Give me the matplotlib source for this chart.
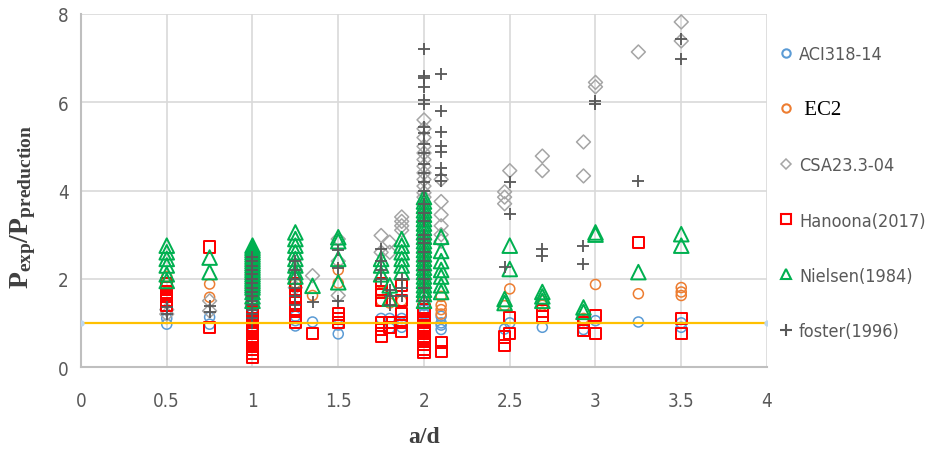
import matplotlib
matplotlib.use("Agg")
import matplotlib.pyplot as plt
from matplotlib.lines import Line2D

plt.rcParams['mathtext.fontset'] = 'custom'
plt.rcParams['mathtext.rm'] = 'Liberation Serif'
plt.rcParams['mathtext.bf'] = 'Liberation Serif:bold'
plt.rcParams['mathtext.it'] = 'Liberation Serif:italic'

# ---------------- data ----------------
aci_x = [0.5, 0.5, 0.75, 0.75, 1.0, 1.0, 1.0, 1.0, 1.25, 1.25, 1.25, 1.35, 1.5, 1.5, 1.75, 1.8, 1.8,
         1.87, 1.87, 1.87, 2.0, 2.0, 2.0, 2.0, 2.0, 2.0, 2.1, 2.1, 2.1, 2.1, 2.47, 2.5, 2.69, 2.93,
         3.0, 3.25, 3.5, 3.5]
aci_y = [0.97, 1.1, 1.13, 0.97, 1.1, 1.0, 0.9, 1.2, 0.93, 1.05, 1.15, 1.02, 0.95, 0.75, 1.1, 1.1, 0.88,
         1.1, 1.0, 0.9, 1.5, 1.4, 1.3, 1.2, 1.1, 1.0, 1.15, 1.0, 0.85, 0.95, 0.86, 1.0, 0.9, 0.85,
         1.05, 1.02, 1.0, 0.9]

ec2_x = [0.5, 0.5, 0.75, 0.75, 1.0, 1.0, 1.0, 1.25, 1.25, 1.35, 1.5, 1.5, 1.75, 1.75, 1.8, 1.87,
         2.0, 2.0, 2.0, 2.0, 2.0, 2.0, 2.1, 2.1, 2.1, 2.1, 2.47, 2.5, 2.69, 2.69, 2.93, 2.93,
         3.0, 3.25, 3.5, 3.5, 3.5]
ec2_y = [2.05, 1.9, 1.88, 1.58, 2.0, 1.8, 1.6, 2.1, 1.9, 1.62, 2.2, 1.9, 1.7, 1.5, 1.45, 1.5,
         2.6, 2.4, 2.2, 2.0, 1.8, 1.6, 1.6, 1.4, 1.2, 1.3, 1.39, 1.77, 1.5, 1.4, 1.1, 1.05,
         1.87, 1.66, 1.8, 1.7, 1.62]

csa_x = [0.5, 0.5, 0.75, 0.75, 1.0, 1.0, 1.0, 1.25, 1.25, 1.35, 1.5, 1.5, 1.5, 1.75, 1.75, 1.8, 1.8,
         1.87, 1.87, 1.87, 1.87,
         2.0, 2.0, 2.0, 2.0, 2.0, 2.0, 2.0, 2.0, 2.0, 2.0, 2.0, 2.0, 2.0, 2.0, 2.0, 2.0, 2.0,
         2.1, 2.1, 2.1, 2.1, 2.1, 2.1, 2.47, 2.47, 2.47, 2.5, 2.69, 2.69, 2.93, 2.93,
         3.0, 3.0, 3.25, 3.5, 3.5]
csa_y = [1.3, 1.2, 1.5, 1.27, 1.8, 1.6, 1.4, 2.2, 1.8, 2.07, 2.9, 2.4, 1.62, 2.98, 2.6, 2.83, 2.6,
         3.4, 3.3, 3.2, 3.1,
         5.6, 5.4, 5.2, 5.0, 4.85, 4.7, 4.55, 4.4, 4.25, 4.1, 3.95, 3.85, 3.7, 3.5, 3.3, 3.1, 2.9,
         4.25, 3.75, 3.45, 3.2, 3.0, 2.85, 3.97, 3.85, 3.7, 4.45, 4.78, 4.45, 5.1, 4.33,
         6.45, 6.35, 7.14, 7.82, 7.39]

han_x = [0.5, 0.5, 0.5, 0.5, 0.5, 0.5, 0.75, 0.75,
         1.0, 1.0, 1.0, 1.0, 1.0, 1.0, 1.0, 1.0, 1.0, 1.0, 1.0, 1.0, 1.0, 1.0, 1.0, 1.0,
         1.25, 1.25, 1.25, 1.25, 1.25, 1.25, 1.25, 1.35, 1.5, 1.5, 1.5,
         1.75, 1.75, 1.75, 1.75, 1.75, 1.75, 1.8, 1.8, 1.87, 1.87, 1.87, 1.87, 1.87,
         2.0, 2.0, 2.0, 2.0, 2.0, 2.0, 2.0, 2.0, 2.0, 2.0, 2.0, 2.1, 2.1,
         2.47, 2.47, 2.5, 2.5, 2.69, 2.69, 2.93, 2.93, 3.0, 3.0, 3.25, 3.5, 3.5]
han_y = [1.9, 1.8, 1.7, 1.6, 1.5, 1.4, 2.72, 0.9,
         2.1, 1.9, 1.7, 1.5, 1.3, 1.2, 1.1, 1.0, 0.9, 0.8, 0.7, 0.6, 0.5, 0.4, 0.3, 0.22,
         1.9, 1.75, 1.6, 1.45, 1.3, 1.15, 1.0, 0.75, 1.2, 1.1, 1.0,
         1.9, 1.7, 1.5, 1.0, 0.85, 0.7, 1.0, 0.9, 1.85, 1.5, 1.2, 1.0, 0.8,
         1.3, 1.2, 1.1, 1.0, 0.9, 0.8, 0.7, 0.6, 0.5, 0.4, 0.32, 0.55, 0.35,
         0.68, 0.48, 1.13, 0.75, 1.27, 1.15, 1.0, 0.82, 1.16, 0.75, 2.83, 1.1, 0.75]

nie_x = [0.5, 0.5, 0.5, 0.5, 0.5, 0.5, 0.75, 0.75,
         1.0, 1.0, 1.0, 1.0, 1.0, 1.0, 1.0, 1.0, 1.0, 1.0, 1.0, 1.0, 1.0, 1.0, 1.0, 1.0,
         1.0, 1.0, 1.0, 1.0, 1.0, 1.0, 1.0,
         1.25, 1.25, 1.25, 1.25, 1.25, 1.25, 1.25, 1.25, 1.35, 1.5, 1.5, 1.5, 1.5,
         1.75, 1.75, 1.75, 1.8, 1.8, 1.87, 1.87, 1.87, 1.87, 1.87, 1.87,
         2.0, 2.0, 2.0, 2.0, 2.0, 2.0, 2.0, 2.0, 2.0, 2.0, 2.0, 2.0, 2.0, 2.0, 2.0, 2.0,
         2.0, 2.0, 2.0, 2.0, 2.0, 2.0, 2.0, 2.0,
         2.1, 2.1, 2.1, 2.1, 2.1, 2.1, 2.1, 2.47, 2.47, 2.5, 2.5, 2.69, 2.69, 2.69,
         2.93, 2.93, 3.0, 3.0, 3.25, 3.5, 3.5]
nie_y = [2.75, 2.6, 2.45, 2.3, 2.1, 1.95, 2.48, 2.15,
         2.75, 2.7, 2.65, 2.6, 2.55, 2.5, 2.45, 2.4, 2.35, 2.3, 2.25, 2.2, 2.15, 2.1, 2.05, 2.0,
         1.95, 1.9, 1.85, 1.8, 1.7, 1.6, 1.5,
         3.05, 2.9, 2.75, 2.6, 2.45, 2.3, 2.15, 2.05, 1.84, 2.94, 2.85, 2.45, 1.92,
         2.45, 2.3, 2.1, 1.85, 1.55, 2.9, 2.75, 2.6, 2.45, 2.3, 2.15,
         3.85, 3.75, 3.65, 3.55, 3.45, 3.35, 3.25, 3.15, 3.05, 2.95, 2.85, 2.75, 2.65, 2.55, 2.45, 2.35,
         2.25, 2.15, 2.05, 1.95, 1.85, 1.75, 1.65, 1.5,
         2.95, 2.63, 2.4, 2.2, 2.05, 1.85, 1.7, 1.54, 1.45, 2.75, 2.22, 1.7, 1.6, 1.5,
         1.35, 1.25, 3.05, 3.0, 2.15, 3.01, 2.75]

fos_x = [0.5, 0.5, 0.75, 0.75,
         1.0, 1.0, 1.0, 1.0, 1.0, 1.0, 1.0, 1.0, 1.0, 1.0, 1.0, 1.0, 1.0, 1.0, 1.0, 1.0,
         1.25, 1.25, 1.25, 1.25, 1.25, 1.25, 1.35, 1.5, 1.5, 1.5,
         1.75, 1.75, 1.75, 1.75, 1.8, 1.8, 1.8, 1.87, 1.87, 1.87,
         2.0, 2.0, 2.0, 2.0, 2.0, 2.0, 2.0, 2.0, 2.0, 2.0, 2.0, 2.0, 2.0, 2.0, 2.0, 2.0,
         2.0, 2.0, 2.0, 2.0, 2.0, 2.0, 2.0, 2.0, 2.0, 2.0,
         2.1, 2.1, 2.1, 2.1, 2.1, 2.1, 2.1, 2.1, 2.47, 2.5, 2.5, 2.69, 2.69, 2.93, 2.93,
         3.0, 3.0, 3.25, 3.5, 3.5]
fos_y = [1.35, 1.2, 1.38, 1.25,
         2.5, 2.4, 2.3, 2.2, 2.1, 2.0, 1.9, 1.8, 1.7, 1.6, 1.5, 1.4, 1.3, 1.2, 1.1, 1.0,
         2.4, 2.2, 2.0, 1.8, 1.6, 1.4, 1.47, 2.65, 2.25, 1.5,
         2.67, 2.4, 2.2, 2.0, 1.75, 1.6, 1.4, 2.0, 1.8, 1.6,
         7.2, 6.6, 6.55, 6.35, 6.05, 5.95, 5.45, 5.3, 5.05, 4.85, 4.6, 4.4, 4.2, 4.0, 3.7, 3.5,
         3.3, 3.0, 2.9, 2.8, 2.6, 2.4, 2.2, 2.0, 1.8, 1.5,
         6.64, 5.8, 5.33, 5.0, 4.87, 4.5, 4.35, 4.22, 2.27, 4.2, 3.47, 2.67, 2.52, 2.75, 2.33,
         6.03, 5.96, 4.22, 7.44, 6.98]

ref_x = [0, 4]
ref_y = [1, 1]

labels = ['ACI318-14', 'EC2', 'CSA23.3-04', 'Hanoona(2017)', 'Nielsen(1984)', 'foster(1996)']
xticks = [0, 0.5, 1, 1.5, 2, 2.5, 3, 3.5, 4]
xticklabels = ['0', '0.5', '1', '1.5', '2', '2.5', '3', '3.5', '4']
yticks = [0, 2, 4, 6, 8]

# ---------------- plot ----------------
C_ACI = '#5B9BD5'
C_EC2 = '#ED7D31'
C_CSA = '#A5A5A5'
C_HAN = '#FF0000'
C_NIE = '#00B050'
C_FOS = '#595959'
GRID = '#D9D9D9'

fig = plt.figure(figsize=(9.29, 4.52), dpi=100)
ax = fig.add_axes([81/929, 1-368/452, (767-81)/929, (368-15)/452])

lw = 1.1
ax.scatter(aci_x, aci_y, s=52, marker='o', facecolors='none', edgecolors=C_ACI, linewidths=lw, zorder=3)
ax.scatter(ec2_x, ec2_y, s=52, marker='o', facecolors='none', edgecolors=C_EC2, linewidths=lw, zorder=3)
ax.scatter(csa_x, csa_y, s=50, marker='D', facecolors='none', edgecolors=C_CSA, linewidths=lw, zorder=3)
ax.scatter(han_x, han_y, s=64, marker='s', facecolors='none', edgecolors=C_HAN, linewidths=lw*1.3, zorder=3)
ax.scatter(nie_x, nie_y, s=110, marker='^', facecolors='none', edgecolors=C_NIE, linewidths=lw*1.3, zorder=3)
ax.scatter(fos_x, fos_y, s=70, marker='+', color=C_FOS, linewidths=lw*1.2, zorder=3)
ax.plot(ref_x, ref_y, color='#FFC000', lw=1.6, zorder=4)
ax.plot(ref_x, ref_y, ls='none', marker='o', ms=3.5, color='#BDD7EE', zorder=4)

ax.set_xlim(0, 4)
ax.set_ylim(0, 8)
ax.set_xticks(xticks)
ax.set_xticklabels(xticklabels)
ax.set_yticks(yticks)
ax.grid(True, color=GRID, lw=1.2, zorder=0)
ax.set_axisbelow(True)
for s in ['top', 'right']:
    ax.spines[s].set_visible(False)
for s in ['left', 'bottom']:
    ax.spines[s].set_color('#BFBFBF')
    ax.spines[s].set_linewidth(1.5)
ax.tick_params(length=0, colors='#595959', labelsize=13.5)
ax.tick_params(axis='x', pad=17)
ax.tick_params(axis='y', pad=9)
tickfont = 'DejaVu Sans'
for t in ax.get_xticklabels() + ax.get_yticklabels():
    t.set_fontfamily(tickfont)
    t.set_fontstretch('condensed')

fig.text(23/929, 1-207/452, r'$\mathbf{P_{exp}/P_{preduction}}$', rotation=90,
         ha='center', va='center', fontsize=20, color='#404040')
fig.text(424/929, 1-438/452, 'a/d', ha='center', va='center', fontsize=17,
         family='Liberation Serif', weight='bold', color='#404040')

handles = [
    Line2D([], [], ls='none', marker='o', ms=6, mfc='none', mec=C_ACI, mew=1.5),
    Line2D([], [], ls='none', marker='o', ms=6, mfc='none', mec=C_EC2, mew=1.5),
    Line2D([], [], ls='none', marker='D', ms=5, mfc='none', mec=C_CSA, mew=1.1),
    Line2D([], [], ls='none', marker='s', ms=6.5, mfc='none', mec=C_HAN, mew=1.5),
    Line2D([], [], ls='none', marker='^', ms=6.5, mfc='none', mec=C_NIE, mew=1.5),
    Line2D([], [], ls='none', marker='+', ms=8, mec=C_FOS, mew=1.5),
]
leg = fig.legend(handles, labels, loc='upper left', bbox_to_anchor=(780/929, 1-46/452),
                 frameon=False, fontsize=13, labelspacing=2.06, handlelength=0.7,
                 handletextpad=0.35, borderpad=0, borderaxespad=0)
for i, t in enumerate(leg.get_texts()):
    if i == 1:
        t.set_fontfamily('Liberation Serif')
        t.set_fontsize(15)
        t.set_color('black')
        t.set_text(' EC2')
    else:
        t.set_fontfamily(tickfont)
        t.set_fontstretch('condensed')
        t.set_color('#595959')

fig.savefig('out.png', dpi=100)
